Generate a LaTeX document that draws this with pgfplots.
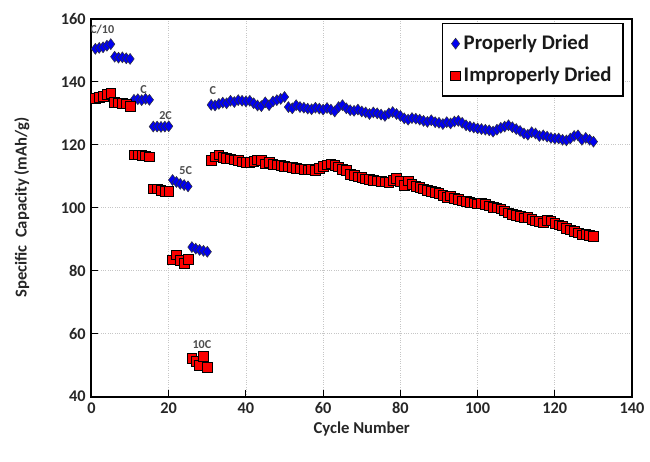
\documentclass[border=0pt]{standalone}
\usepackage{pgfplots}
\pgfplotsset{compat=1.18}
\usepackage{pgfplotstable}
\usepackage{fontspec}
\setmainfont{Carlito}
\definecolor{pblue}{RGB}{0,0,240}
\definecolor{pred}{RGB}{250,0,0}

\pgfplotstableread{
cycle cap
1 150.5
2 150.8
3 151.0
4 151.5
5 152.0
6 148.0
7 147.7
8 147.8
9 147.5
10 147.3
11 134.3
12 134.5
13 134.2
14 134.6
15 134.3
16 125.8
17 125.8
18 125.7
19 125.8
20 125.9
21 108.8
22 108.2
23 107.6
24 107.2
25 106.8
26 87.5
27 87.0
28 86.6
29 86.3
30 86.0
31 132.7
32 132.5
33 133.0
34 133.4
35 133.2
36 134.0
37 133.6
38 134.2
39 134.0
40 133.8
41 134.0
42 133.2
43 132.5
44 132.3
45 133.5
46 132.6
47 133.8
48 134.2
49 134.6
50 135.2
51 132.0
52 131.6
53 132.6
54 132.0
55 131.8
56 131.5
57 131.3
58 131.8
59 131.5
60 131.2
61 131.7
62 131.2
63 130.6
64 132.0
65 132.6
66 131.6
67 131.0
68 130.8
69 131.2
70 130.6
71 130.3
72 129.8
73 130.3
74 130.0
75 129.6
76 129.2
77 130.0
78 130.4
79 129.8
80 129.2
81 128.4
82 128.0
83 128.5
84 128.3
85 128.0
86 127.6
87 127.3
88 127.8
89 127.2
90 127.0
91 126.6
92 127.2
93 126.8
94 127.4
95 127.6
96 127.0
97 126.2
98 125.8
99 125.5
100 125.2
101 125.0
102 124.8
103 124.6
104 124.2
105 124.8
106 125.4
107 125.8
108 126.2
109 125.6
110 125.0
111 124.4
112 123.6
113 123.2
114 124.0
115 123.6
116 122.8
117 123.0
118 122.6
119 122.2
120 122.0
121 122.0
122 121.6
123 121.4
124 122.0
125 122.8
126 123.0
127 121.6
128 122.2
129 121.6
130 121.0
}\proper

\pgfplotstableread{
cycle cap
1 134.8
2 135.0
3 135.5
4 136.0
5 136.3
6 133.5
7 133.3
8 133.2
9 133.0
10 132.3
11 116.8
12 116.8
13 116.6
14 116.5
15 116.2
16 106.0
17 106.0
18 105.6
19 105.3
20 105.2
21 83.5
22 85.0
23 83.2
24 82.4
25 83.6
26 52.2
27 51.2
28 50.0
29 52.8
30 49.2
31 115.0
32 116.2
33 116.8
34 116.0
35 115.8
36 115.5
37 115.2
38 115.0
39 114.6
40 114.5
41 114.4
42 114.8
43 115.2
44 115.0
45 114.0
46 114.4
47 113.8
48 113.6
49 113.4
50 113.2
51 113.0
52 112.8
53 112.6
54 112.4
55 112.2
56 112.0
57 112.2
58 111.8
59 112.6
60 113.2
61 113.6
62 114.0
63 113.4
64 113.0
65 112.2
66 111.8
67 110.6
68 110.2
69 109.8
70 109.6
71 109.2
72 109.0
73 108.8
74 108.6
75 108.4
76 108.2
77 108.0
78 108.8
79 109.4
80 108.4
81 107.2
82 108.6
83 107.4
84 106.8
85 106.4
86 106.0
87 105.6
88 105.2
89 104.8
90 104.6
91 104.0
92 103.4
93 103.8
94 103.0
95 102.6
96 102.2
97 102.0
98 101.8
99 101.6
100 101.2
101 101.4
102 101.0
103 100.6
104 100.2
105 100.0
106 99.6
107 99.0
108 98.4
109 98.0
110 97.6
111 97.2
112 96.8
113 97.0
114 96.4
115 95.8
116 95.6
117 95.2
118 96.0
119 95.8
120 95.0
121 94.6
122 94.2
123 93.4
124 93.0
125 92.6
126 92.0
127 91.4
128 91.6
129 91.2
130 91.0
}\improper

\begin{document}
\begin{tikzpicture}
\begin{axis}[
  scale only axis,
  width=325pt, height=227pt,
  xmin=0, xmax=140, ymin=40, ymax=160,
  xtick={0,20,...,140}, ytick={40,60,...,160},
  tick align=inside,
  xtick pos=bottom, ytick pos=left,
  major tick length=4pt,
  tick style={black, line width=0.6pt},
  axis line style={black, line width=1.2pt},
  grid=major,
  grid style={densely dotted, gray!45, line width=0.5pt},
  /pgf/number format/assume math mode=true,
  ticklabel style={font=\bfseries\fontsize{9.8}{11}\selectfont, text=black!85},
  xlabel={\bfseries Cycle Number},
  ylabel={\bfseries Specific\ \ Capacity (mAh/g)},
  label style={font=\bfseries\fontsize{10}{12}\selectfont, text=black!85},
  xlabel style={yshift=2pt},
  ylabel style={yshift=12pt},
  legend style={at={(0.985,0.99)}, anchor=north east, draw=black, line width=0.9pt,
    font=\bfseries\fontsize{12.5}{15}\selectfont, text=black!90,
    row sep=5pt, inner xsep=5pt, inner ysep=5pt},
  legend cell align=left,
  legend image code/.code={\draw[#1] (0.2cm,0cm) plot coordinates {(0.2cm,0cm)};},
]
\addplot[only marks, mark=diamond*, mark size=3.3pt,
  mark options={fill=pblue, draw=black!80, line width=0.3pt}] table[x=cycle,y=cap] {\proper};
\addlegendentry{Properly Dried}
\addplot[only marks, mark=square*, mark size=2.9pt,
  mark options={fill=pred, draw=black, line width=0.4pt}] table[x=cycle,y=cap] {\improper};
\addlegendentry{Improperly Dried}

\node[font=\bfseries\fontsize{7.3}{8}\selectfont, text=black!70] at (axis cs:2.8,156.8) {C/10};
\node[font=\bfseries\fontsize{7.3}{8}\selectfont, text=black!70] at (axis cs:13.5,137.6) {C};
\node[font=\bfseries\fontsize{7.3}{8}\selectfont, text=black!70] at (axis cs:19.2,129.2) {2C};
\node[font=\bfseries\fontsize{7.3}{8}\selectfont, text=black!70] at (axis cs:24.4,111.8) {5C};
\node[font=\bfseries\fontsize{7.3}{8}\selectfont, text=black!70] at (axis cs:31.4,137.2) {C};
\node[font=\bfseries\fontsize{7.3}{8}\selectfont, text=black!70] at (axis cs:28.6,56.6) {10C};
\end{axis}
\path (current axis.south west) ++(-55pt,-39pt) (current axis.north east) ++(9.6pt,11.4pt);
\end{tikzpicture}
\end{document}
